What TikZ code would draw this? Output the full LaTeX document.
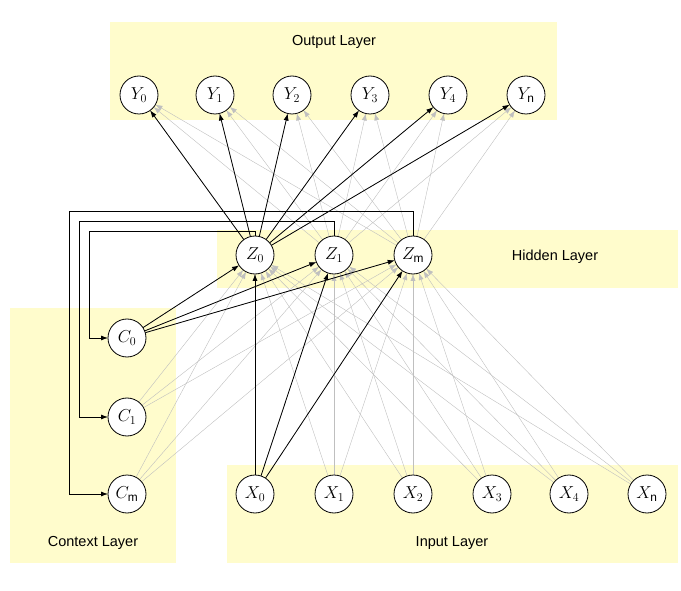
\documentclass[tikz,border=0pt]{standalone}
\usepackage{fontspec}
\setmainfont{Liberation Sans}
\usetikzlibrary{arrows.meta}
\begin{document}
\begin{tikzpicture}[x=1pt,y=-1pt,
 neuron/.style={circle,draw,thick,fill=white,minimum size=38pt,inner sep=0pt,font=\fontsize{17}{19}\selectfont},
 layer/.style={fill=yellow!20,draw=none},
 lbl/.style={font=\fontsize{14.5}{16}\selectfont},
 g/.style={draw=black!25,-{Latex[length=7pt,width=5pt]}},
 b/.style={draw=black,thick,-{Latex[length=7pt,width=5pt]}}]
\useasboundingbox (0,0) rectangle (681,591);
\fill[layer] (110,22) rectangle (557,120);
\fill[layer] (217,230) rectangle (678,288);
\fill[layer] (10,308) rectangle (176,563);
\fill[layer] (227,465) rectangle (678,563);
\node[lbl] (lo) at (334,42) {Output Layer};
\node[lbl] (lh) at (555,257) {Hidden Layer};
\node[lbl] (lc) at (93,543) {Context Layer};
\node[lbl] (li) at (452,543) {Input Layer};
\foreach \n/\x in {0/139,1/215,2/292,3/370,4/448,5/526}
  \coordinate (y\n) at (\x,95);
\foreach \n/\x in {0/255,1/334,2/413}
  \coordinate (z\n) at (\x,255);
\foreach \n/\y in {0/338,1/417,2/494}
  \coordinate (c\n) at (127,\y);
\foreach \n/\x in {0/255,1/334,2/413,3/492,4/569,5/647}
  \coordinate (x\n) at (\x,494);
\tikzset{sh/.style={shorten >=19pt,shorten <=19pt}}
\foreach \z in {0,1,2}{
  \foreach \y in {0,...,5} \draw[g,sh] (z\z) -- (y\y);
  \foreach \c in {0,1,2} \draw[g,sh] (c\c) -- (z\z);
  \foreach \x in {0,...,5} \draw[g,sh] (x\x) -- (z\z);
}
\foreach \y in {0,...,5} \draw[b,sh] (z0) -- (y\y);
\foreach \z in {0,1,2} {\draw[b,sh] (c0) -- (z\z); \draw[b,sh] (x0) -- (z\z);}
\draw[b,shorten >=19pt] ([yshift=-19pt]z0) -- (255,231) -- (89,231) |- (c0);
\draw[b,shorten >=19pt] ([yshift=-19pt]z1) -- (334,221) -- (79,221) |- (c1);
\draw[b,shorten >=19pt] ([yshift=-19pt]z2) -- (413,211) -- (69,211) |- (c2);
\foreach \n/\s in {0/0,1/1,2/2,3/3,4/4,5/\mathrm{n}}
  \node[neuron] (Y\n) at (y\n) {$Y_{\s}$};
\foreach \n/\s in {0/0,1/1,2/\mathrm{m}}
  \node[neuron] (Z\n) at (z\n) {$Z_{\s}$};
\foreach \n/\s in {0/0,1/1,2/\mathrm{m}}
  \node[neuron] (C\n) at (c\n) {$C_{\s}$};
\foreach \n/\s in {0/0,1/1,2/2,3/3,4/4,5/\mathrm{n}}
  \node[neuron] (X\n) at (x\n) {$X_{\s}$};
\end{tikzpicture}
\end{document}
